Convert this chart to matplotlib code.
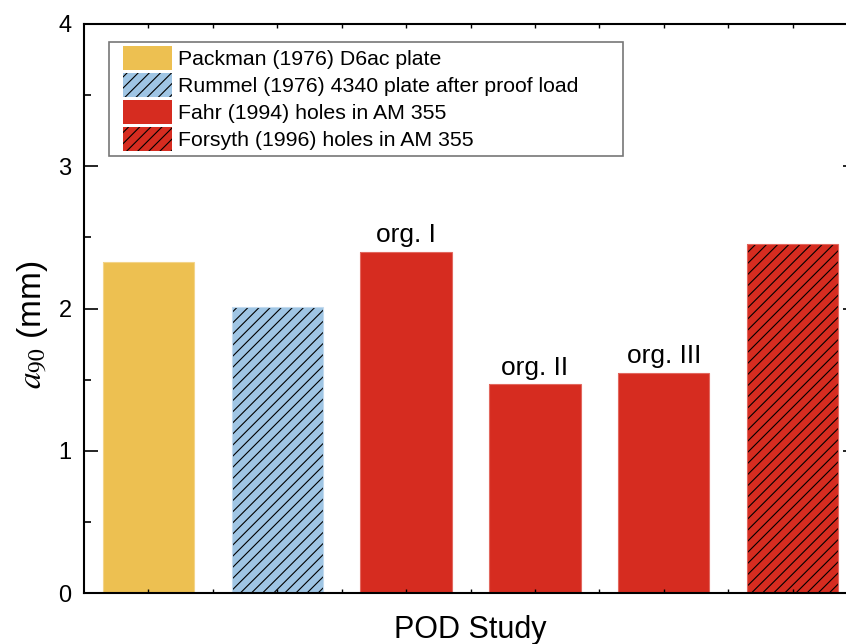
import numpy as np
import matplotlib.pyplot as plt
from matplotlib.patches import Patch, Rectangle

plt.rcParams['font.family'] = ['Liberation Sans', 'DejaVu Sans']
plt.rcParams['mathtext.fontset'] = 'stix'
plt.rcParams['hatch.linewidth'] = 0.8

# data
studies = ['Packman (1976) D6ac plate',
           'Rummel (1976) 4340 plate after proof load',
           'Fahr (1994) holes in AM 355',
           'Forsyth (1996) holes in AM 355']
a90 = [2.33, 2.01, 2.40, 1.47, 1.55, 2.45]
bar_study = [0, 1, 2, 2, 2, 3]
bar_notes = ['', '', 'org. I', 'org. II', 'org. III', '']

colors = ['#EDC051', '#9FC5E4', '#D62C20', '#D62C20']
hatches = ['', '///', '', '///']
edges = ['#F3D48A', '#C2DAEE', '#E2685F', '#E2685F']

fig = plt.figure(figsize=(8.46, 6.44), dpi=100)
ax = fig.add_axes([84/846, 51/644, 773/846, 569/644])

x = np.arange(1, len(a90) + 1)
for xi, v, s in zip(x, a90, bar_study):
    ax.bar(xi, v, width=0.71, color=colors[s], hatch=hatches[s],
           edgecolor='black' if hatches[s] else edges[s], linewidth=0)
    # light outline around bar
    ax.bar(xi, v, width=0.71, fill=False, edgecolor=edges[s], linewidth=0.8)

for xi, v, t in zip(x, a90, bar_notes):
    if t:
        ax.text(xi, v + 0.03, t, ha='center', va='bottom', fontsize=19)

ax.set_xlim(0.5, 6.5)
ax.set_ylim(0, 4)
ax.set_xticks(x)
ax.set_xticks(x[:-1] + 0.5, minor=True)
ax.set_xticklabels([])
ax.set_yticks([0, 1, 2, 3, 4])
ax.set_yticks([0.5, 1.5, 2.5, 3.5], minor=True)
ax.tick_params(axis='both', which='both', direction='in', top=True, right=True)
ax.tick_params(axis='y', which='major', length=10, width=1.2, labelsize=17, pad=9)
ax.tick_params(axis='y', which='minor', length=5, width=1.2)
ax.tick_params(axis='x', which='both', length=3, width=1.0)
for sp in ax.spines.values():
    sp.set_linewidth(1.5)
ax.spines['right'].set_visible(False)

ax.set_xlabel('POD Study', fontsize=22, labelpad=12)
ax.set_ylabel(r'$\mathit{a}_{90}$ (mm)', fontsize=24)
ax.yaxis.set_label_coords(-0.044, 0.472)

handles = [Patch(facecolor=colors[i], hatch=hatches[i],
                 edgecolor='black' if hatches[i] else edges[i], linewidth=0)
           for i in range(len(studies))]
ax.legend(handles, studies, loc='upper left', bbox_to_anchor=(0.0505, 0.962),
          fontsize=15.3, frameon=False, handlelength=2.3,
          handleheight=1.36, handletextpad=0.3, labelspacing=0.15,
          borderpad=0, borderaxespad=0)
# legend box is wider than its entries in the original
ax.add_patch(Rectangle((0.0323, 0.768), 0.665, 0.2004, transform=ax.transAxes,
                       fill=False, edgecolor='#777777', linewidth=1.2, zorder=4))

fig.savefig('out.png', dpi=100)
